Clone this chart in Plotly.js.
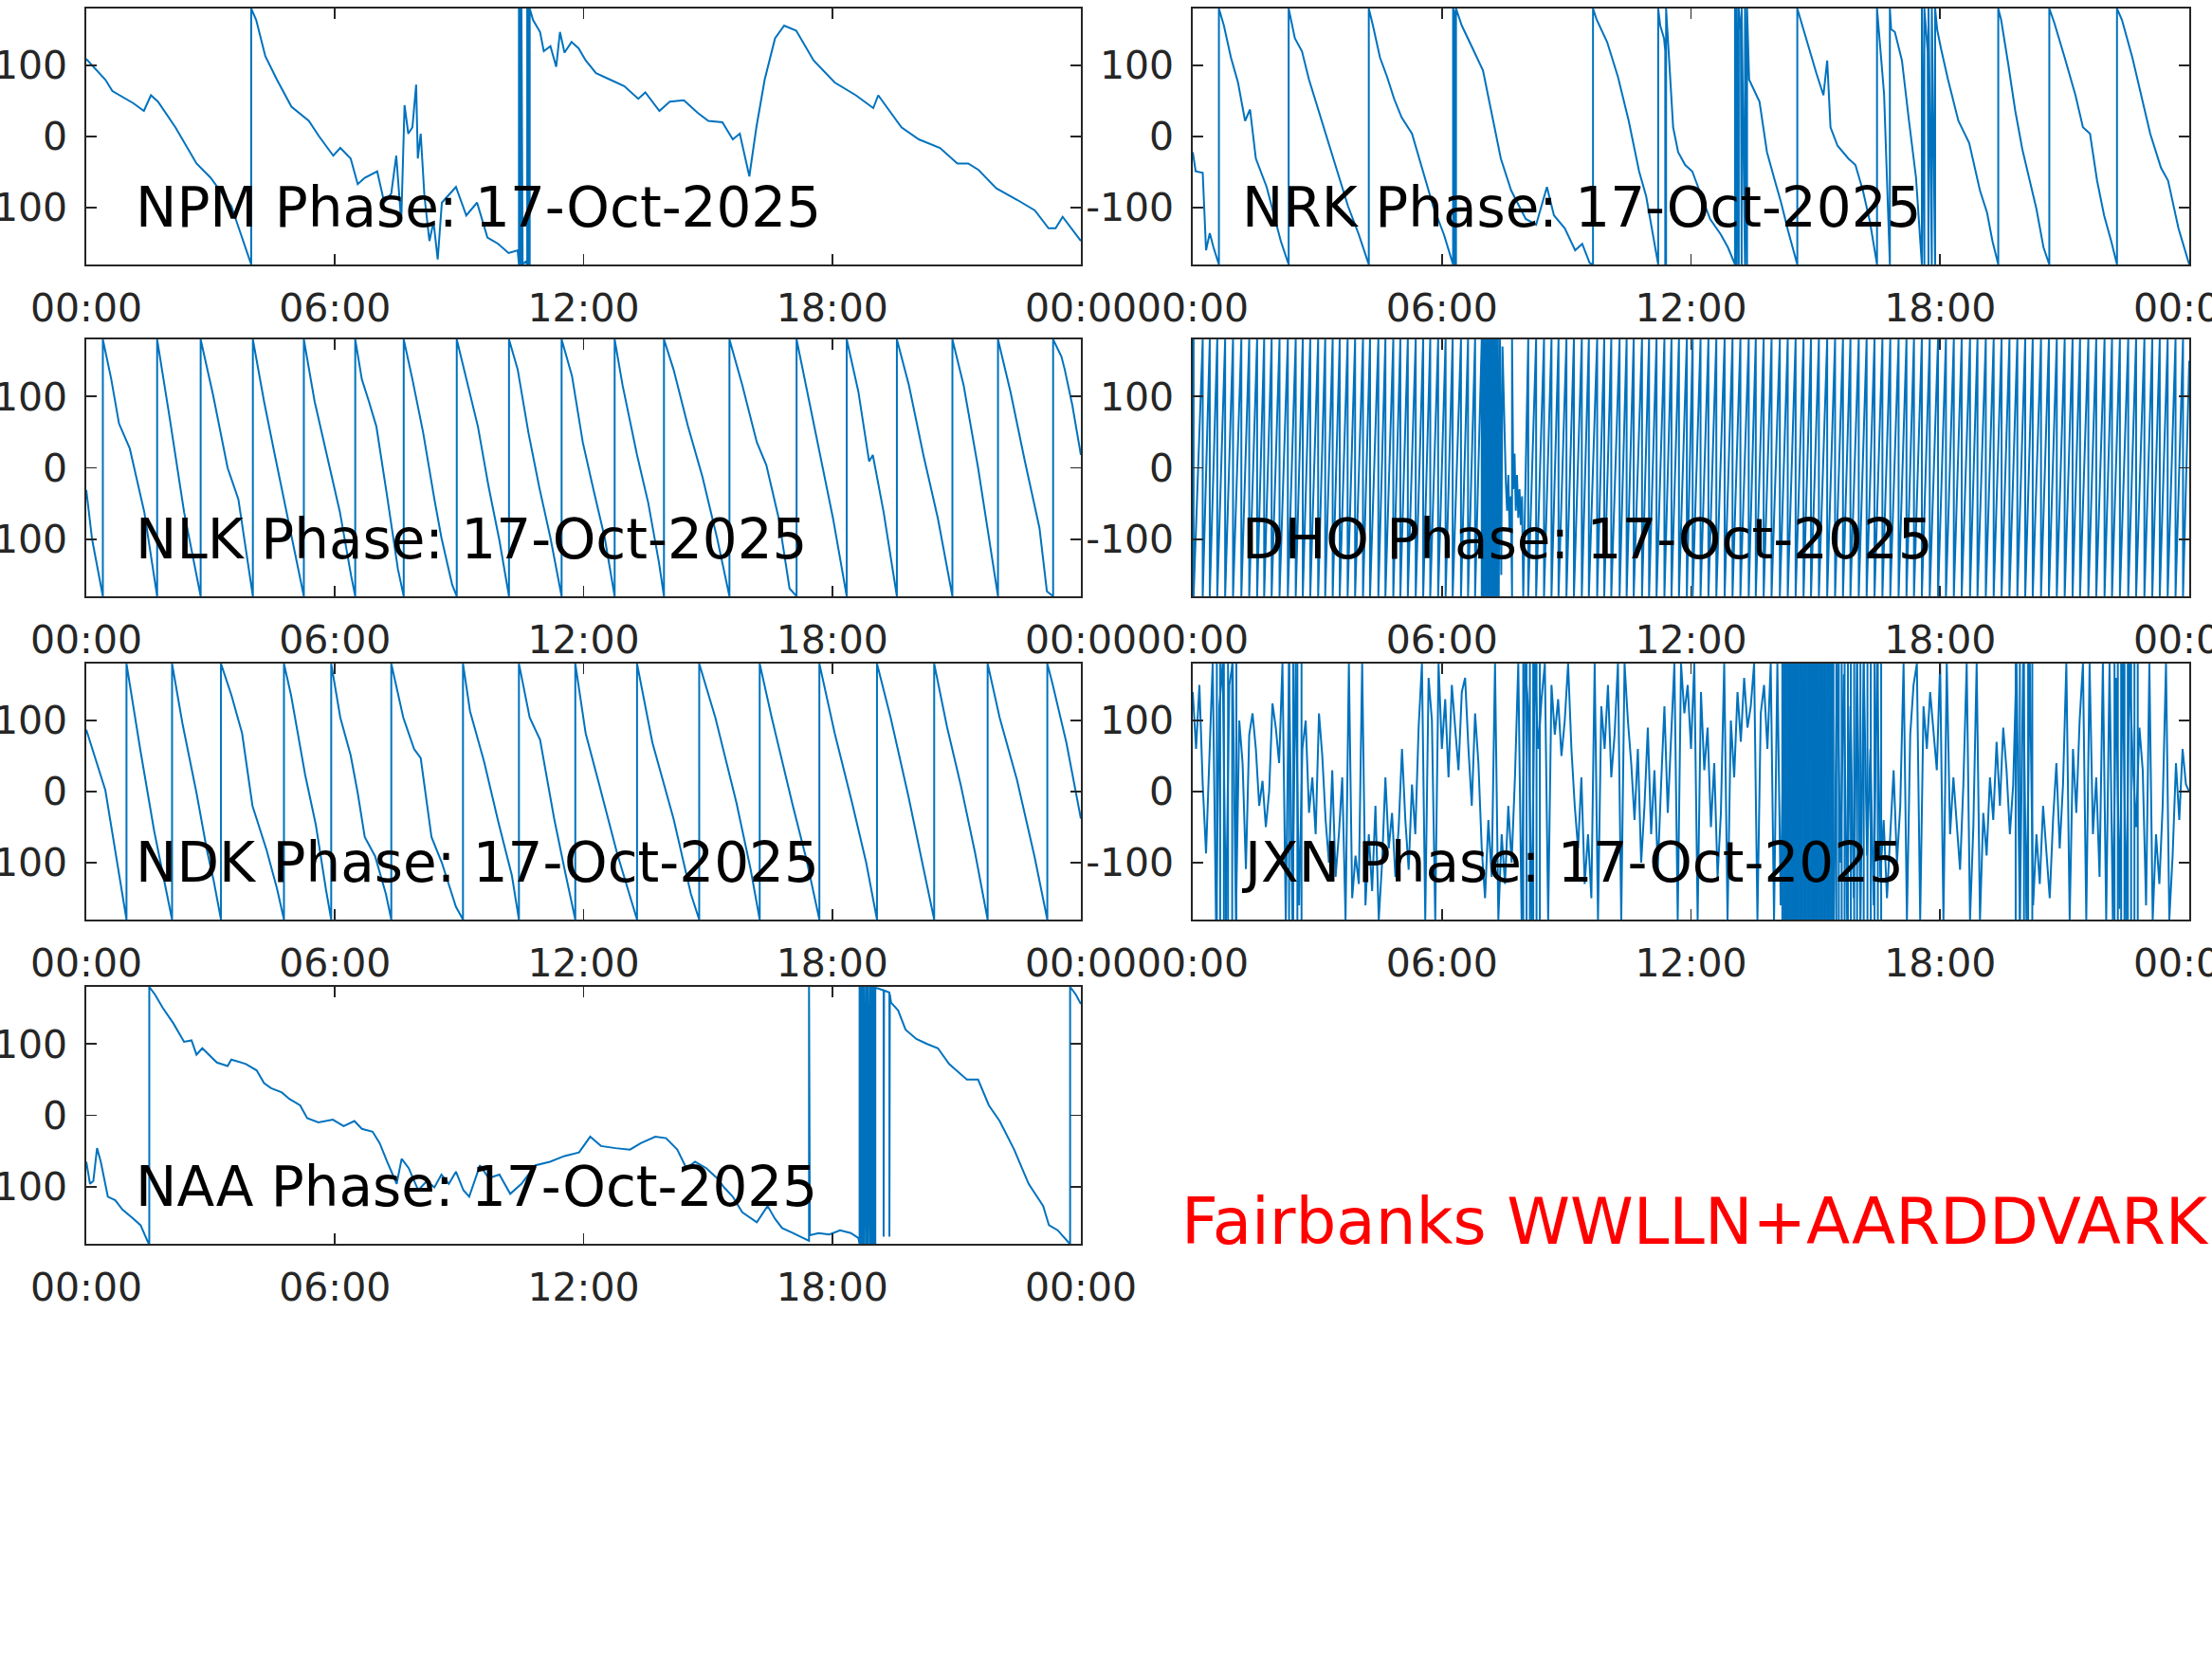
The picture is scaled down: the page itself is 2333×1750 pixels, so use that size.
<!DOCTYPE html>
<html><head><meta charset="utf-8">
<script src="https://cdn.plot.ly/plotly-3.0.1.min.js"></script>
<style>html,body{margin:0;padding:0;background:#fff;}#chart{width:2333px;height:1750px;}</style>
</head><body><div id="chart"></div>
<script>
// ---- tick labels ----
const xTickVals = [0, 6, 12, 18, 24];
const xTickText = ['00:00', '06:00', '12:00', '18:00', '00:00'];
const yTickVals = [-100, 0, 100];
const yTickText = ['-100', '0', '100'];
const dateLabel = '17-Oct-2025';
const stations = ['NPM', 'NRK', 'NLK', 'DHO', 'NDK', 'JXN', 'NAA'];
const footer = 'Fairbanks WWLLN+AARDDVARK';

// ---- phase data: [hour, degrees] ----
const npmPhase = [[0,109],[0.46,80],[0.63,64],[1.13,47],[1.39,36],[1.56,58],[1.73,49],[2.15,13],[2.66,-38],[3.0,-58],[3.5,-98],[3.98,-180],[3.98,180],[4.1,164],[4.32,113],[4.6,80],[4.95,42],[5.37,22],[5.62,0],[5.79,-13],[5.96,-27],[6.13,-16],[6.38,-31],[6.55,-67],[6.72,-58],[7.02,-49],[7.19,-93],[7.36,-80],[7.48,-27],[7.6,-120],[7.68,44],[7.77,4],[7.87,13],[7.96,73],[8.0,-31],[8.07,4],[8.16,-84],[8.28,-147],[8.38,-120],[8.48,-173],[8.58,-93],[8.92,-71],[9.17,-111],[9.43,-93],[9.68,-142],[9.94,-151],[10.19,-164],[10.41,-160],[10.44,-180],[10.44,180],[10.47,-180],[10.47,180],[10.5,-180],[10.5,180],[10.53,-180],[10.6,-176],[10.64,-180],[10.64,180],[10.67,-180],[10.67,180],[10.7,-180],[10.7,180],[10.73,175],[10.78,164],[10.95,147],[11.04,120],[11.2,127],[11.34,98],[11.43,147],[11.54,118],[11.71,133],[11.88,124],[12.05,107],[12.3,89],[12.64,80],[12.98,71],[13.32,53],[13.49,62],[13.83,36],[14.08,49],[14.42,51],[14.76,33],[15.01,22],[15.35,20],[15.6,-4],[15.77,4],[16.0,-56],[16.17,13],[16.37,80],[16.62,138],[16.84,156],[17.13,149],[17.55,107],[18.06,76],[18.57,58],[18.99,40],[19.11,58],[19.28,44],[19.67,13],[20.09,-4],[20.6,-16],[21.02,-38],[21.28,-38],[21.53,-47],[21.96,-73],[22.46,-89],[22.89,-104],[23.22,-129],[23.39,-129],[23.56,-113],[24,-147]];

const nrkPhase = [[0,-22],[0.07,-49],[0.24,-51],[0.27,-93],[0.32,-160],[0.41,-136],[0.5,-156],[0.63,-180],[0.63,180],[0.75,156],[0.92,111],[1.09,76],[1.26,22],[1.38,38],[1.52,-31],[1.78,-71],[1.95,-111],[2.12,-147],[2.31,-180],[2.31,180],[2.46,138],[2.63,120],[2.8,80],[3.06,31],[3.23,0],[3.49,-49],[3.74,-98],[4.0,-138],[4.24,-180],[4.24,180],[4.34,156],[4.51,111],[4.68,84],[4.85,53],[5.03,27],[5.28,4],[5.54,-49],[5.79,-98],[6.05,-138],[6.27,-180],[6.27,180],[6.3,175],[6.3,-178],[6.34,-180],[6.34,180],[6.48,156],[6.74,124],[6.99,93],[7.16,44],[7.42,-31],[7.67,-76],[8.02,-116],[8.27,-124],[8.53,-71],[8.7,-111],[8.96,-129],[9.21,-160],[9.38,-151],[9.56,-178],[9.64,-180],[9.64,180],[9.73,164],[9.98,133],[10.24,84],[10.5,22],[10.75,-49],[10.92,-84],[11.21,-180],[11.21,180],[11.26,156],[11.35,138],[11.38,120],[11.38,-180],[11.4,-180],[11.4,180],[11.57,13],[11.69,-22],[11.86,-40],[12.03,-49],[12.2,-76],[12.46,-116],[12.72,-138],[12.89,-156],[13.06,-180],[13.06,180],[13.1,-180],[13.1,180],[13.15,-180],[13.15,180],[13.2,150],[13.22,-180],[13.22,180],[13.3,-180],[13.3,180],[13.35,-180],[13.35,180],[13.4,80],[13.65,49],[13.83,-22],[14.0,-58],[14.17,-93],[14.34,-133],[14.56,-180],[14.56,180],[14.68,156],[14.85,124],[15.02,89],[15.19,58],[15.28,107],[15.36,13],[15.53,-13],[15.79,-31],[15.96,-40],[16.14,-76],[16.31,-120],[16.48,-180],[16.48,180],[16.65,60],[16.79,-180],[16.79,180],[16.82,151],[16.91,147],[17.08,107],[17.25,22],[17.42,-58],[17.56,-180],[17.56,180],[17.62,-180],[17.62,180],[17.7,120],[17.72,-180],[17.72,180],[17.8,-180],[17.8,180],[17.88,-180],[17.88,180],[17.93,150],[18.02,124],[18.19,80],[18.44,22],[18.7,-9],[18.96,-76],[19.13,-107],[19.26,-147],[19.4,-180],[19.4,180],[19.47,164],[19.64,102],[19.81,36],[19.98,-18],[20.15,-58],[20.32,-102],[20.49,-156],[20.63,-180],[20.63,180],[20.75,160],[21.0,111],[21.26,58],[21.44,13],[21.61,4],[21.78,-62],[21.95,-111],[22.12,-147],[22.26,-180],[22.26,180],[22.38,164],[22.63,111],[22.8,67],[23.06,4],[23.32,-44],[23.49,-62],[23.74,-129],[24,-180]];

const nlkPhase = [[0,-31],[0.14,-100],[0.40,-180],[0.40,180],[0.6,125],[0.79,62],[1.05,27],[1.40,-62],[1.71,-180],[1.71,180],[2.01,71],[2.36,-62],[2.76,-180],[2.76,180],[3.06,102],[3.41,0],[3.67,-44],[3.94,-151],[4.02,-180],[4.02,180],[4.29,93],[4.55,18],[4.9,-80],[5.25,-180],[5.25,180],[5.51,93],[5.86,4],[6.12,-62],[6.39,-151],[6.49,-180],[6.49,180],[6.65,124],[6.82,93],[7.0,58],[7.26,-40],[7.52,-142],[7.66,-180],[7.66,180],[7.87,124],[8.13,49],[8.4,-44],[8.57,-98],[8.83,-164],[8.94,-180],[8.94,180],[9.18,124],[9.45,58],[9.71,-27],[9.97,-102],[10.2,-180],[10.2,180],[10.41,138],[10.67,49],[10.93,-27],[11.2,-98],[11.47,-180],[11.47,180],[11.72,129],[11.98,36],[12.24,-31],[12.51,-98],[12.75,-180],[12.75,180],[12.94,116],[13.29,18],[13.56,-49],[13.82,-133],[13.94,-180],[13.94,180],[14.17,138],[14.52,58],[14.87,-13],[15.22,-98],[15.52,-180],[15.52,180],[15.83,116],[16.18,36],[16.41,4],[16.71,-71],[16.97,-169],[17.14,-180],[17.14,180],[17.4,107],[17.67,27],[18.02,-71],[18.35,-180],[18.35,180],[18.63,107],[18.89,9],[18.98,18],[19.24,-62],[19.56,-180],[19.56,180],[19.85,116],[20.2,18],[20.55,-71],[20.9,-180],[20.9,180],[21.17,116],[21.52,0],[21.78,-98],[22.0,-180],[22.0,180],[22.3,107],[22.65,9],[23.0,-84],[23.18,-173],[23.33,-180],[23.33,180],[23.53,156],[23.61,138],[23.79,89],[24,18]];

const ndkPhase = [[0,87],[0.46,2],[0.97,-180],[0.97,180],[1.3,60],[1.64,-56],[2.07,-180],[2.07,180],[2.32,96],[2.66,-2],[2.91,-82],[3.08,-127],[3.25,-180],[3.25,180],[3.5,136],[3.76,82],[4.01,-20],[4.35,-82],[4.6,-136],[4.77,-180],[4.77,180],[4.94,136],[5.28,24],[5.54,-47],[5.79,-140],[5.91,-180],[5.91,180],[6.13,104],[6.38,51],[6.55,-2],[6.72,-64],[6.97,-91],[7.23,-144],[7.36,-180],[7.36,180],[7.65,104],[7.91,60],[8.07,47],[8.33,-64],[8.58,-100],[8.92,-162],[9.09,-180],[9.09,180],[9.26,113],[9.6,42],[9.94,-42],[10.27,-118],[10.44,-180],[10.44,180],[10.7,104],[10.95,73],[11.29,-38],[11.54,-109],[11.8,-180],[11.8,180],[12.05,82],[12.39,7],[12.81,-87],[13.15,-153],[13.29,-180],[13.29,180],[13.66,69],[14.17,-38],[14.59,-144],[14.79,-180],[14.79,180],[15.18,104],[15.69,-16],[16.03,-109],[16.25,-180],[16.25,180],[16.54,104],[17.05,-20],[17.38,-96],[17.69,-180],[17.69,180],[18.06,82],[18.48,-16],[18.82,-100],[19.08,-180],[19.08,180],[19.41,104],[19.84,-7],[20.18,-100],[20.46,-180],[20.46,180],[20.77,91],[21.11,7],[21.45,-87],[21.75,-180],[21.75,180],[22.04,104],[22.46,16],[22.88,-91],[23.19,-180],[23.19,180],[23.31,153],[23.65,69],[24,-38]];

const naaPhase = [[0,-65],[0.09,-96],[0.17,-92],[0.26,-46],[0.35,-65],[0.52,-114],[0.7,-119],[0.87,-132],[1.14,-145],[1.31,-154],[1.49,-178],[1.52,-180],[1.52,180],[1.66,169],[1.84,151],[2.1,129],[2.36,103],[2.54,105],[2.66,85],[2.8,94],[3.15,74],[3.41,69],[3.5,78],[3.85,72],[4.11,63],[4.29,45],[4.46,38],[4.72,32],[4.9,23],[5.16,14],[5.33,-4],[5.6,-10],[5.95,-6],[6.21,-15],[6.47,-8],[6.65,-19],[6.91,-23],[7.08,-39],[7.26,-65],[7.49,-96],[7.61,-61],[7.78,-74],[8.01,-105],[8.22,-92],[8.4,-101],[8.57,-83],[8.75,-96],[8.92,-79],[9.1,-105],[9.24,-114],[9.5,-70],[9.71,-88],[9.97,-83],[10.23,-110],[10.5,-96],[10.84,-70],[11.19,-65],[11.54,-57],[11.89,-52],[12.16,-30],[12.42,-43],[12.77,-46],[13.12,-48],[13.38,-39],[13.73,-30],[13.99,-32],[14.26,-48],[14.48,-74],[14.69,-65],[14.96,-74],[15.22,-88],[15.39,-101],[15.6,-114],[15.83,-136],[16.18,-150],[16.44,-127],[16.62,-145],[16.79,-158],[17.05,-165],[17.32,-172],[17.44,-176],[17.44,180],[17.46,-168],[17.67,-165],[17.93,-167],[18.19,-161],[18.45,-165],[18.63,-172],[18.66,-180],[18.66,180],[18.7,-180],[18.7,180],[18.74,-180],[18.74,180],[18.78,-180],[18.78,180],[18.83,-180],[18.83,180],[18.87,-180],[18.87,180],[18.92,-180],[18.92,180],[18.96,-180],[18.96,180],[19.0,-180],[19.0,180],[19.04,-180],[19.04,180],[19.06,178],[19.1,178],[19.24,175],[19.24,-170],[19.25,175],[19.38,172],[19.38,-170],[19.39,170],[19.42,158],[19.59,147],[19.77,120],[20.03,107],[20.29,100],[20.55,94],[20.82,72],[20.99,63],[21.25,50],[21.52,50],[21.78,14],[22.04,-8],[22.39,-48],[22.74,-96],[23.09,-127],[23.23,-154],[23.44,-161],[23.7,-178],[23.74,-180],[23.74,180],[23.88,169],[24,156]];

// DHO: hours at which the phase wraps from +180 to -180
const dhoWrapsA = [0.02,0.24,0.41,0.59,0.78,0.97,1.17,1.36,1.55,1.72,1.9,2.09,2.29,2.48,2.65,2.83,3.02,3.19,3.37,3.54,3.73,3.91,4.1,4.27,4.47,4.64,4.83,5.0,5.18,5.37,5.55,5.72,5.91,6.09,6.26,6.46,6.63,6.8,6.96];
const dhoBurst = [[6.99,-180],[6.99,180],[7.01,-180],[7.02,180],[7.04,-180],[7.05,180],[7.07,-180],[7.08,180],[7.1,-180],[7.11,180],[7.13,-180],[7.14,180],[7.16,-180],[7.17,180],[7.19,-180],[7.2,180],[7.22,-180],[7.23,180],[7.25,-180],[7.27,180],[7.29,-180],[7.31,180],[7.33,-180],[7.35,180],[7.37,-180],[7.4,180],[7.43,-150],[7.46,170],[7.5,60],[7.54,-20],[7.57,-60],[7.6,-10],[7.63,-90],[7.66,-40],[7.69,-180],[7.69,180],[7.72,-30],[7.75,20],[7.78,-60],[7.81,-10],[7.84,-70],[7.87,-30],[7.9,-80],[7.93,-40],[7.96,-180]];
const dhoWrapsB = [8.08,8.27,8.46,8.64,8.81,9.0,9.18,9.37,9.54,9.74,9.91,10.08,10.28,10.45,10.62,10.82,10.99,11.17,11.36,11.53,11.71,11.9,12.04,12.23,12.42,12.61,12.81,13.0,13.19,13.39,13.56,13.75,13.94,14.14,14.33,14.52,14.71,14.89,15.08,15.28,15.47,15.66,15.84,16.04,16.23,16.42,16.61,16.8,17.0,17.19,17.37,17.56,17.75,17.95,18.14,18.33,18.52,18.72,18.9,19.1,19.29,19.48,19.67,19.86,20.05,20.23,20.43,20.62,20.81,21.0,21.19,21.37,21.57,21.76,21.96,22.14,22.33,22.53,22.72,22.92,23.11,23.29,23.48,23.67,23.85];
const dhoStart = 40, dhoEnd = 150;

// JXN: phase read every 0.08 h (sampling interval of this series), from 00:00
const jxnStartHour = 0, jxnStepHour = 0.08;
const jxnPhase = [
  140,60,150,10,-87,40,180,-180,120,180,
  -180,150,180,-180,100,40,-109,80,110,60,
  -20,15,-50,0,124,90,40,180,-180,180,
  -180,180,-160,60,100,-30,20,-60,110,50,
  -40,-100,30,-120,-60,20,-180,180,-150,-90,
  -130,180,-160,-60,-140,-20,-180,-100,20,-80,
  -30,-120,-50,60,-40,-110,10,-60,90,180,
  -180,160,100,-180,180,60,130,20,150,90,
  30,140,160,60,-20,110,40,-80,-150,-40,
  -120,180,-180,-60,-130,-20,-100,20,180,-180,
  180,120,-180,180,60,130,180,-180,150,80,
  130,50,100,180,60,-20,-80,20,-130,-60,
  -150,180,-180,120,60,150,20,80,180,-180,
  180,100,40,-40,60,-100,-20,90,-60,30,
  -110,10,120,-30,80,180,-180,180,110,150,
  60,180,-180,140,30,90,-50,40,-120,-30,
  180,-180,100,20,140,70,160,90,120,180,
  -180,110,150,60,180,-180,180,-160,130,-180,
  180,-180,160,-150,180,-120,180,-180,150,-180,
  180,-160,140,-180,180,-100,165,-180,120,-150,
  180,-180,180,-90,60,-160,180,-120,-40,-150,
  -60,30,-100,-20,180,-180,80,150,180,-180,
  120,60,140,90,30,180,-180,180,-60,20,
  -40,-110,10,180,-180,-50,180,-180,-30,-90,
  20,-40,70,-20,90,30,-60,10,180,-180,
  180,-180,180,-160,-60,-130,-20,-90,-150,-40,
  40,-80,10,180,-180,60,-30,100,180,-180,
  180,-60,20,-120,180,-180,180,-180,160,-165,
  180,-180,180,40,-50,90,30,-160,180,-180,
  -60,-130,-20,180,-180,-90,40,-40,60,10,
  0
];
// JXN: hours of the full-height wrap clusters
const jxnWrapHours = [
  0.58,0.66,0.75,0.85,0.95,1.05,
  2.32,2.42,2.52,2.62,
  7.96,8.04,8.12,8.2,8.28,8.36,
  14.2,14.23,14.26,14.29,14.32,14.35,14.38,14.41,14.44,14.47,14.5,14.53,14.56,14.59,14.62,14.65,14.68,14.71,14.74,14.77,14.8,14.83,14.86,14.89,14.92,14.95,14.98,15.01,15.04,15.07,15.1,15.13,15.16,15.19,15.22,15.25,15.28,15.31,15.34,15.37,15.4,15.43,
  15.5,15.56,15.63,15.7,15.78,15.85,15.93,16.0,16.08,16.16,16.25,16.33,16.42,16.5,16.58,
  19.82,19.92,20.02,20.12,20.22,
  22.2,22.28,22.36,22.44,22.52,22.6,22.68,22.76
];

// ---- build DHO series from its read wrap times ----
function buildDho() {
  const pts = [[0, dhoStart]];
  dhoWrapsA.forEach(t => { pts.push([t, 180]); pts.push([t, -180]); });
  dhoBurst.forEach(p => pts.push(p));
  dhoWrapsB.forEach(t => { pts.push([t, 180]); pts.push([t, -180]); });
  pts.push([24, dhoEnd]);
  return pts;
}
const dhoPhase = buildDho();

const seriesByStation = {NPM: npmPhase, NRK: nrkPhase, NLK: nlkPhase, DHO: dhoPhase, NDK: ndkPhase, NAA: naaPhase};

// ---- layout geometry (pixel boxes) ----
const W = 2333, H = 1750;
const colX = [[91, 1140], [1258, 2309]];
const rowY = [[9, 279], [358, 629], [700, 970], [1041, 1312]];

const font = 'DejaVu Sans, Liberation Sans, sans-serif';
const axisColor = '#262626';
const lineStyle = {color: '#0072BD', width: 2};
const data = [];
const layout = {
  width: W, height: H, margin: {l: 0, r: 0, t: 0, b: 0},
  paper_bgcolor: '#ffffff', plot_bgcolor: '#ffffff', showlegend: false,
  annotations: []
};

stations.forEach((st, i) => {
  const row = Math.floor(i / 2), col = i % 2;
  const n = i + 1, sx = n === 1 ? '' : String(n);
  const trace = {
    type: 'scatter', mode: 'lines',
    xaxis: 'x' + sx, yaxis: 'y' + sx,
    line: lineStyle, hoverinfo: 'skip'
  };
  if (st === 'JXN') {
    trace.y = jxnPhase; trace.x0 = jxnStartHour; trace.dx = jxnStepHour;
    const wx = [], wy = [];
    jxnWrapHours.forEach(t => { wx.push(t, t, null); wy.push(-180, 180, null); });
    data.push({type: 'scatter', mode: 'lines', x: wx, y: wy, connectgaps: false,
      xaxis: 'x' + sx, yaxis: 'y' + sx, line: lineStyle, hoverinfo: 'skip'});
  } else {
    const pts = seriesByStation[st];
    trace.x = pts.map(p => p[0]); trace.y = pts.map(p => p[1]);
  }
  data.push(trace);
  const common = {
    showline: true, mirror: 'ticks', linecolor: axisColor, linewidth: 1.6,
    ticks: 'inside', ticklen: 11, tickwidth: 1.6, tickcolor: axisColor,
    showgrid: false, zeroline: false, fixedrange: true,
    ticklabeloverflow: 'allow',
    tickfont: {family: font, size: 41, color: axisColor}
  };
  layout['xaxis' + sx] = Object.assign({}, common, {
    domain: [colX[col][0] / W, colX[col][1] / W],
    range: [0, 24], tickmode: 'array', tickvals: xTickVals, ticktext: xTickText,
    anchor: 'y' + sx, ticklabelstandoff: 9
  });
  layout['yaxis' + sx] = Object.assign({}, common, {
    domain: [1 - rowY[row][1] / H, 1 - rowY[row][0] / H],
    range: [-180, 180], tickmode: 'array', tickvals: yTickVals, ticktext: yTickText,
    anchor: 'x' + sx, ticklabelstandoff: 10
  });
  layout.annotations.push({
    xref: 'x' + sx, yref: 'y' + sx, x: 1.15, y: -100,
    xanchor: 'left', yanchor: 'middle', showarrow: false,
    text: st + ' Phase: ' + dateLabel,
    font: {family: font, size: 58, color: '#000000'}
  });
});

layout.annotations.push({
  xref: 'paper', yref: 'paper', x: 1244 / W, y: 1 - 1288 / H,
  xanchor: 'left', yanchor: 'middle', showarrow: false,
  text: footer, font: {family: font, size: 67.5, color: '#ff0000'}
});

Plotly.newPlot('chart', data, layout, {displayModeBar: false, staticPlot: true});
</script></body></html>
